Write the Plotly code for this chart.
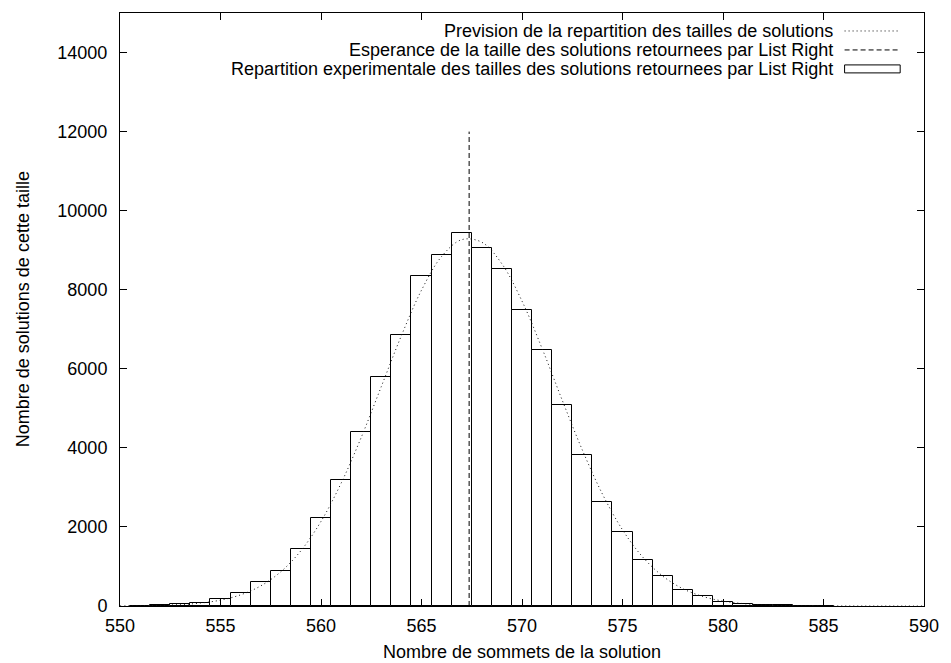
import plotly.graph_objects as go

# Taille des solutions (nombre de sommets)
tailles = list(range(551, 586))
# Repartition experimentale : nombre de solutions de chaque taille
effectifs = [8, 20, 42, 78, 177, 320, 598, 885, 1448, 2231,
             3184, 4397, 5787, 6849, 8340, 8870, 9434, 9055, 8525, 7498,
             6470, 5097, 3808, 2628, 1878, 1154, 750, 404, 261, 110,
             60, 30, 15, 7, 3]

# Courbe de prevision
prev_x = list(range(550, 591))
prev_y = [3, 7, 16, 35, 74, 148, 282, 508, 866, 1398,
          2140, 3105, 4263, 5550, 6839, 7989, 8841, 9266, 9201, 8655,
          7713, 6514, 5207, 3948, 2833, 1927, 1241, 757, 438, 240,
          124, 61, 28, 12, 5, 2, 1, 0, 0, 0, 0]

# Esperance de la taille des solutions
esperance = 567.37
esperance_hauteur = 12000

legende = [
    "Prevision de la repartition des tailles de solutions",
    "Esperance de la taille des solutions retournees par List Right",
    "Repartition experimentale des tailles des solutions retournees par List Right",
]

x_ticks = [550, 555, 560, 565, 570, 575, 580, 585, 590]
y_ticks = [0, 2000, 4000, 6000, 8000, 10000, 12000, 14000]

FONT = "Liberation Sans, Arial, Helvetica, sans-serif"
FS = 18

fig = go.Figure()

fig.add_trace(go.Bar(
    x=tailles, y=effectifs, width=1,
    marker=dict(color="white", line=dict(color="black", width=1)),
    showlegend=False,
))

fig.add_trace(go.Scatter(
    x=prev_x, y=prev_y, mode="lines",
    line=dict(color="#111111", width=1, dash="1px,3px", shape="spline"),
    showlegend=False,
))

fig.add_trace(go.Scatter(
    x=[esperance, esperance], y=[0, esperance_hauteur], mode="lines",
    line=dict(color="black", width=1, dash="5px,3px"),
    showlegend=False,
))

# Legende dessinee a la main : texte aligne a droite, echantillon a droite
plot_l, plot_r, plot_t, plot_b = 120, 930, 12, 606
pw, ph = plot_r - plot_l, plot_b - plot_t


def px(x):
    return (x - plot_l) / pw


def py(y):
    return 1 - (y - plot_t) / ph


rows_y = [30, 49, 68]
text_right = 840
samp_l, samp_r = 850, 906

annotations = []
shapes = []
for label, yy in zip(legende, rows_y):
    annotations.append(dict(
        x=px(text_right), y=py(yy), xref="paper", yref="paper",
        text=label, showarrow=False, xanchor="right", yanchor="middle",
        font=dict(family=FONT, size=FS, color="black"),
    ))

shapes.append(dict(type="line", xref="paper", yref="paper",
                   x0=px(samp_l), x1=px(samp_r), y0=py(rows_y[0]), y1=py(rows_y[0]),
                   line=dict(color="#111111", width=1, dash="1px,3px")))
shapes.append(dict(type="line", xref="paper", yref="paper",
                   x0=px(samp_l), x1=px(samp_r), y0=py(rows_y[1]), y1=py(rows_y[1]),
                   line=dict(color="black", width=1, dash="5px,3px")))
shapes.append(dict(type="rect", xref="paper", yref="paper",
                   x0=px(samp_l), x1=px(samp_r), y0=py(rows_y[2] - 4), y1=py(rows_y[2] + 4),
                   line=dict(color="black", width=1), fillcolor="white"))

# Titres des axes
annotations.append(dict(
    x=0.5, y=py(652), xref="paper", yref="paper",
    text="Nombre de sommets de la solution", showarrow=False,
    xanchor="center", yanchor="middle",
    font=dict(family=FONT, size=FS, color="black"),
))
annotations.append(dict(
    x=px(22), y=0.5, xref="paper", yref="paper",
    text="Nombre de solutions de cette taille", showarrow=False,
    textangle=-90, xanchor="center", yanchor="middle",
    font=dict(family=FONT, size=FS, color="black"),
))

axis_common = dict(
    showline=True, linecolor="black", linewidth=1, mirror="ticks",
    ticks="inside", ticklen=7, tickwidth=1, tickcolor="black",
    showgrid=False, zeroline=False,
    tickfont=dict(family=FONT, size=FS, color="black"),
)

fig.update_layout(
    width=951, height=663,
    margin=dict(l=plot_l, r=951 - plot_r, t=plot_t, b=663 - plot_b),
    paper_bgcolor="white", plot_bgcolor="white",
    bargap=0,
    xaxis=dict(range=[550, 590], tickvals=x_ticks, ticktext=[str(v) for v in x_ticks],
               ticklabelstandoff=3, **axis_common),
    yaxis=dict(range=[0, 15000], tickvals=y_ticks, ticktext=[str(v) for v in y_ticks],
               ticklabelstandoff=8, **axis_common),
    annotations=annotations,
    shapes=shapes,
    font=dict(family=FONT, size=FS, color="black"),
)

fig.write_html("out.html")
